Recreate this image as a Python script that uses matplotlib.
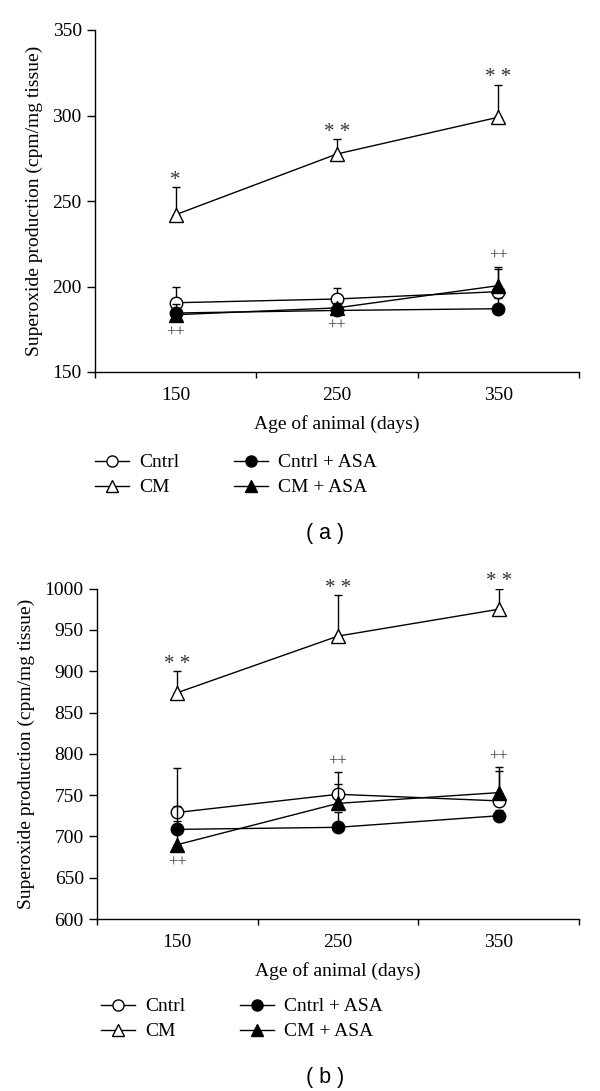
import matplotlib
matplotlib.use("Agg")
import matplotlib.pyplot as plt
from matplotlib.lines import Line2D
import numpy as np

plt.rcParams['font.family'] = ['Liberation Serif', 'DejaVu Serif']

# Возраст животных (дни)
days = [150, 250, 350]
series_names = ["Cntrl", "CM", "Cntrl + ASA", "CM + ASA"]

# Панель (a): среднее и верхняя ошибка
a_cntrl = [190.5, 192.7, 197.0]
a_cntrl_err = [9.0, 6.5, 13.0]
a_cm = [242.0, 277.5, 299.0]
a_cm_err = [16.0, 8.5, 19.0]
a_cntrl_asa = [184.5, 186.0, 187.0]
a_cntrl_asa_err = [5.0, 3.0, 6.0]
a_cm_asa = [183.5, 187.5, 200.5]
a_cm_asa_err = [3.0, 3.0, 11.0]

# Панель (b)
b_cntrl = [729.0, 751.0, 743.0]
b_cntrl_err = [53.5, 13.0, 36.0]
b_cm = [874.0, 942.5, 975.0]
b_cm_err = [26.0, 50.0, 25.0]
b_cntrl_asa = [708.5, 711.0, 725.0]
b_cntrl_asa_err = [10.5, 19.0, 7.0]
b_cm_asa = [690.0, 740.0, 753.0]
b_cm_asa_err = [47.0, 38.0, 30.5]

# Значимость: над CM ("*"), для CM+ASA ("++", над или под точкой)
a_star = ["*", "**", "**"]
a_plus_above = [False, False, True]
b_star = ["**", "**", "**"]
b_plus_above = [False, True, True]

styles = [
    dict(marker='o', mfc='white', ms=9),
    dict(marker='^', mfc='white', ms=10),
    dict(marker='o', mfc='black', ms=9),
    dict(marker='^', mfc='black', ms=10),
]


def draw_panel(ax, means, errs, stars, plus_above, ylim, yticks):
    for i, (m, e) in enumerate(zip(means, errs)):
        ax.errorbar(days, m, yerr=[np.zeros(len(e)), e], fmt='none',
                    ecolor='black', elinewidth=1.0, capsize=3.2, capthick=1.0,
                    zorder=2 + i)
        ax.plot(days, m, color='black', lw=1.0, mec='black', mew=1.0,
                zorder=2.5 + i, **styles[i])

    # верх ошибок без CM (для "++")
    tops = np.max([np.array(means[i]) + np.array(errs[i]) for i in (0, 2, 3)], axis=0)
    cm_top = np.array(means[1]) + np.array(errs[1])
    for k, x in enumerate(days):
        ax.annotate(" ".join(stars[k]), (x, cm_top[k]), xytext=(0, -2),
                    textcoords='offset points', ha='center', va='bottom',
                    fontsize=15, color='#333333')
        if plus_above[k]:
            ax.annotate("++", (x, tops[k]), xytext=(0, 2), textcoords='offset points',
                        ha='center', va='bottom', fontsize=12, color='#444444')
        else:
            ax.annotate("++", (x, means[3][k]), xytext=(0, -7), textcoords='offset points',
                        ha='center', va='top', fontsize=12, color='#444444')

    ax.set_xlim(100, 400)
    ax.set_ylim(*ylim)
    ax.set_yticks(yticks)
    ax.set_xticks([100, 200, 300, 400])
    ax.set_xticklabels([])
    ax.set_xticks(days, minor=True)
    ax.set_xticklabels([str(d) for d in days], minor=True)
    ax.tick_params(axis='x', which='minor', length=0, pad=11, labelsize=14)
    ax.tick_params(axis='x', which='major', length=4, width=1.0, direction='out')
    ax.tick_params(axis='y', length=5.5, width=1.0, direction='out', pad=4, labelsize=14)
    for s in ['top', 'right']:
        ax.spines[s].set_visible(False)
    for s in ['left', 'bottom']:
        ax.spines[s].set_linewidth(1.0)
    ax.set_xlabel("Age of animal (days)", fontsize=14, labelpad=8)
    ax.set_ylabel("Superoxide production (cpm/mg tissue)", fontsize=14, labelpad=7)


def add_legend(fig, x, y):
    handles = [Line2D([0], [0], color='black', lw=1.0, mec='black', mew=1.0, **st)
               for st in styles]
    for h in handles:
        h.set_markersize(h.get_markersize() - 1)
    fig.legend(handles, series_names, ncol=2, loc='center left',
               bbox_to_anchor=(x, y), frameon=False, fontsize=14,
               handlelength=1.75, handletextpad=0.5, columnspacing=2.85,
               labelspacing=0.38, borderpad=0, borderaxespad=0)


fig = plt.figure(figsize=(6, 10.91), dpi=100)

ax_a = fig.add_axes([95 / 600, 1 - 372 / 1091, 484 / 600, 342 / 1091])
draw_panel(ax_a,
           [a_cntrl, a_cm, a_cntrl_asa, a_cm_asa],
           [a_cntrl_err, a_cm_err, a_cntrl_asa_err, a_cm_asa_err],
           a_star, a_plus_above, (150, 350), range(150, 351, 50))
add_legend(fig, 95 / 600, 1 - 475 / 1091)
fig.text(325 / 600, 1 - 533 / 1091, "( a )", ha='center', va='center',
         fontsize=15.5, family=['Liberation Sans', 'DejaVu Sans'])

ax_b = fig.add_axes([97 / 600, 1 - 919 / 1091, 482 / 600, 330.4 / 1091])
draw_panel(ax_b,
           [b_cntrl, b_cm, b_cntrl_asa, b_cm_asa],
           [b_cntrl_err, b_cm_err, b_cntrl_asa_err, b_cm_asa_err],
           b_star, b_plus_above, (600, 1000), range(600, 1001, 50))
add_legend(fig, 101 / 600, 1 - 1019 / 1091)
fig.text(325 / 600, 1 - 1077 / 1091, "( b )", ha='center', va='center',
         fontsize=15.5, family=['Liberation Sans', 'DejaVu Sans'])

fig.savefig("out.png", dpi=100, facecolor='white')
